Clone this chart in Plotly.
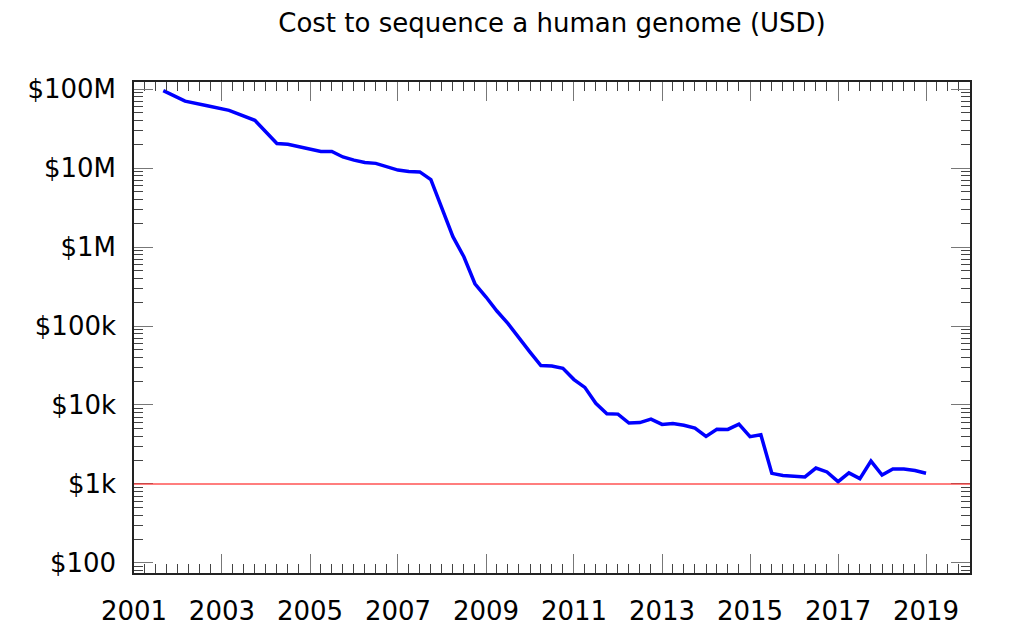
import plotly.graph_objects as go

dates = ["2001-09-01", "2002-03-01", "2002-09-01", "2003-03-01", "2003-10-01",
         "2004-01-01", "2004-04-01", "2004-07-01", "2004-10-01",
         "2005-01-01", "2005-04-01", "2005-07-01", "2005-10-01",
         "2006-01-01", "2006-04-01", "2006-07-01", "2006-10-01",
         "2007-01-01", "2007-04-01", "2007-07-01", "2007-10-01",
         "2008-01-01", "2008-04-01", "2008-07-01", "2008-10-01",
         "2009-01-01", "2009-04-01", "2009-07-01", "2009-10-01",
         "2010-01-01", "2010-04-01", "2010-07-01", "2010-10-01",
         "2011-01-01", "2011-04-01", "2011-07-01", "2011-10-01",
         "2012-01-01", "2012-04-01", "2012-07-01", "2012-10-01",
         "2013-01-01", "2013-04-01", "2013-07-01", "2013-10-01",
         "2014-01-01", "2014-04-01", "2014-07-01", "2014-10-01",
         "2015-01-01", "2015-04-01", "2015-07-01", "2015-10-01",
         "2016-01-01", "2016-04-01", "2016-07-01", "2016-10-01",
         "2017-01-01", "2017-04-01", "2017-07-01", "2017-10-01",
         "2018-01-01", "2018-04-01", "2018-07-01", "2018-10-01",
         "2019-01-01"]

cost_usd = [95263072, 70175437, 61448422, 53751684, 40157554,
            28780376, 20442576, 19934346, 18519312,
            17534970, 16159699, 16180224, 13801124,
            12585659, 11732535, 11455315, 10474556,
            9408739, 9047002, 8927342, 7147571,
            3063820, 1352982, 752080, 342502,
            232735, 154714, 108065, 70333,
            46774, 31512, 31125, 29092,
            20963, 16712, 10497, 7743,
            7666, 5901, 5985, 6618,
            5671, 5826, 5550, 5096,
            4008, 4920, 4905, 5731,
            3970, 4211, 1363, 1280,
            1250, 1230, 1590, 1420,
            1070, 1380, 1170, 1950,
            1300, 1550, 1550, 1480,
            1370]

reference_usd = 1000

y_tick_vals = [100, 1000, 10000, 100000, 1000000, 10000000, 100000000]
y_tick_text = ["$100", "$1k", "$10k", "$100k", "$1M", "$10M", "$100M"]

x_start = "2001-01-01"
x_end = "2020-01-01"

minor_y = [m * d for d in [10, 100, 1000, 10000, 100000, 1000000, 10000000, 100000000]
           for m in range(2, 10)]

FONT = "DejaVu Sans"
W, H = 1016, 633

fig = go.Figure()
fig.add_trace(go.Scatter(
    x=dates, y=cost_usd, mode="lines",
    line=dict(color="#0000ff", width=3.5),
    hoverinfo="x+y", showlegend=False,
))

fig.add_shape(type="line", xref="paper", x0=0, x1=1, yref="y",
              y0=reference_usd, y1=reference_usd,
              line=dict(color="rgba(255,40,40,0.8)", width=1.4), layer="above")

fig.update_layout(
    width=W, height=H,
    margin=dict(l=126, r=54, t=74, b=68, autoexpand=False),
    paper_bgcolor="white", plot_bgcolor="white",
    font=dict(family=FONT, color="black", size=26),
    title=dict(text="Cost to sequence a human genome (USD)",
               x=544 / W, xanchor="center",
               y=1 - 15 / H, yanchor="middle", yref="container",
               font=dict(family=FONT, size=26, color="black")),
    xaxis=dict(
        type="date", range=[x_start, x_end], automargin=False,
        tick0=x_start, dtick="M24", tickformat="%Y",
        ticks="inside", ticklen=19, tickwidth=1.3, tickcolor="#777",
        minor=dict(ticks="inside", dtick="M3", ticklen=9, tickwidth=1.2, tickcolor="#444", showgrid=False),
        showline=True, linecolor="#222", linewidth=1.5, mirror="ticks",
        showgrid=False, zeroline=False,
        ticklabelstandoff=14,
        tickfont=dict(family=FONT, size=26),
    ),
    yaxis=dict(
        type="log", range=[1.873, 8.089], automargin=False,
        tickmode="array", tickvals=y_tick_vals, ticktext=y_tick_text,
        ticks="inside", ticklen=19, tickwidth=1.3, tickcolor="#777",
        minor=dict(ticks="inside", tickmode="array", tickvals=minor_y, ticklen=9,
                   tickwidth=1.2, tickcolor="#444", showgrid=False),
        showline=True, linecolor="#222", linewidth=1.5, mirror="ticks",
        showgrid=False, zeroline=False,
        ticklabelstandoff=11,
        tickfont=dict(family=FONT, size=26),
    ),
)

fig.write_html("out.html")
